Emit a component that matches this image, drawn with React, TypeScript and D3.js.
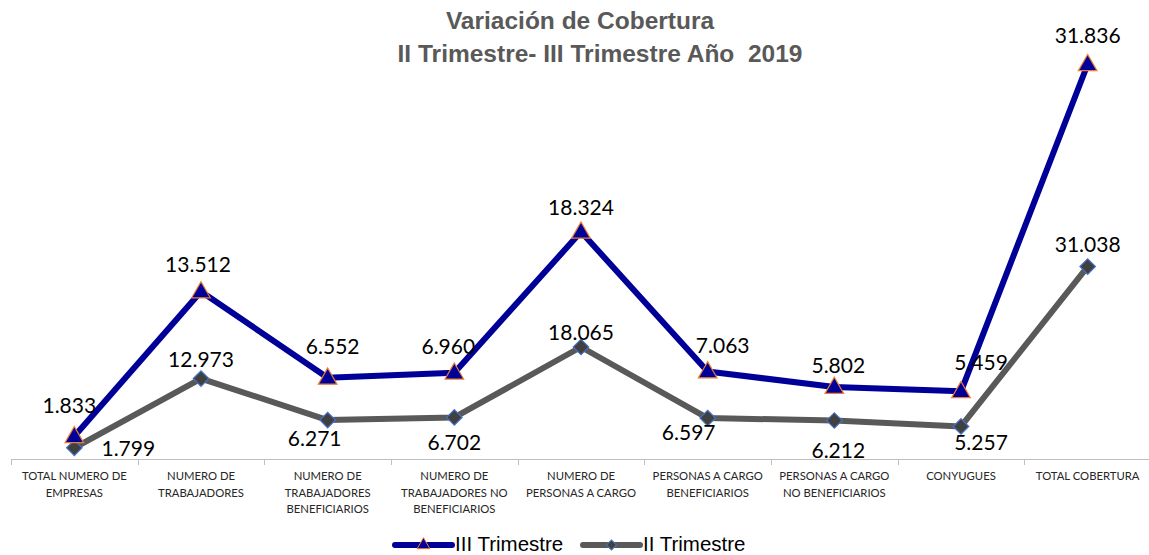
import * as React from 'react';
import * as d3 from 'd3';

const categories = [
  ['TOTAL NUMERO DE', 'EMPRESAS'],
  ['NUMERO DE', 'TRABAJADORES'],
  ['NUMERO DE', 'TRABAJADORES', 'BENEFICIARIOS'],
  ['NUMERO DE', 'TRABAJADORES NO', 'BENEFICIARIOS'],
  ['NUMERO DE', 'PERSONAS A CARGO'],
  ['PERSONAS A CARGO', 'BENEFICIARIOS'],
  ['PERSONAS A CARGO', 'NO BENEFICIARIOS'],
  ['CONYUGUES'],
  ['TOTAL COBERTURA'],
];

// III Trimestre (primary axis)
const trimestre3 = [1833, 13512, 6552, 6960, 18324, 7063, 5802, 5459, 31836];
// II Trimestre (secondary axis)
const trimestre2 = [1799, 12973, 6271, 6702, 18065, 6597, 6212, 5257, 31038];

const primaryMax = 35000;
const secondaryMax = 70000;

// label nudges relative to each point [dx, dy]
const offsets3 = [[-5, -31], [-3, -27], [5, -31], [-6, -26], [0, -24], [15, -26], [4, -22], [20, -29], [0, -29]];
const offsets2 = [[54, 1], [0, -19], [-13, 18], [0, 25], [0, -15], [-19, 14], [4, 30], [20, 16], [0, -22]];

const fmt = d3.formatLocale({ decimal: ',', thousands: '.', grouping: [3], currency: ['$', ''] }).format(',d');

const W = 1149;
const H = 555;

export default function App() {
  const ref = React.useRef<SVGSVGElement>(null);

  React.useEffect(() => {
    const svg = d3.select(ref.current);
    svg.selectAll('*').remove();

    const top = 25;
    const bottom = 459;

    const x = d3.scaleBand<number>().domain(d3.range(categories.length)).range([11, 1151]);
    const y1 = d3.scaleLinear().domain([0, primaryMax]).range([bottom, top]);
    const y2 = d3.scaleLinear().domain([0, secondaryMax]).range([bottom, top]);
    const cx = (i: number) => x(i)! + x.bandwidth() / 2;

    // title
    const title = svg.append('g')
      .attr('font-family', 'Liberation Sans, Arial, sans-serif')
      .attr('font-weight', 'bold')
      .attr('font-size', 24.5)
      .attr('fill', '#595959')
      .attr('text-anchor', 'middle');
    title.append('text').attr('x', 580).attr('y', 29).text('Variación de Cobertura');
    title.append('text').attr('x', 600).attr('y', 62).attr('xml:space', 'preserve').text('II Trimestre- III Trimestre Año  2019');

    // x axis
    const axis = svg.append('g');
    axis.append('line')
      .attr('x1', 11).attr('x2', 1151)
      .attr('y1', bottom + 0.5).attr('y2', bottom + 0.5)
      .attr('stroke', '#BFBFBF');
    axis.selectAll('.tick')
      .data(d3.range(categories.length + 1))
      .enter().append('line')
      .attr('x1', d => Math.round(11 + d * x.step()) + 0.5)
      .attr('x2', d => Math.round(11 + d * x.step()) + 0.5)
      .attr('y1', bottom).attr('y2', bottom + 6)
      .attr('stroke', '#BFBFBF');

    const lab = axis.selectAll('.cat')
      .data(categories)
      .enter().append('text')
      .attr('text-anchor', 'middle')
      .attr('font-family', 'Lato, Open Sans, sans-serif')
      .attr('font-size', 11.3)
      .attr('fill', '#262626');
    lab.each(function (d, i) {
      d3.select(this).selectAll('tspan')
        .data(d)
        .enter().append('tspan')
        .attr('x', cx(i))
        .attr('y', (_, j) => 480 + j * 16.5)
        .text(t => t);
    });

    const series = [
      { values: trimestre3, y: y1, color: '#000099', offsets: offsets3, marker: 'triangle' },
      { values: trimestre2, y: y2, color: '#595959', offsets: offsets2, marker: 'diamond' },
    ];

    const tri = d3.symbol().type(d3.symbolTriangle).size(150);
    const dia = d3.symbol().type(d3.symbolSquare).size(120);

    // draw II first so III sits on top
    [series[1], series[0]].forEach(s => {
      const line = d3.line<number>().x((_, i) => cx(i)).y(d => s.y(d));
      svg.append('path')
        .datum(s.values)
        .attr('d', line)
        .attr('fill', 'none')
        .attr('stroke', s.color)
        .attr('stroke-width', 6)
        .attr('stroke-linejoin', 'round');
    });

    [series[1], series[0]].forEach(s => {
      svg.append('g').selectAll('path')
        .data(s.values)
        .enter().append('path')
        .attr('transform', (d, i) => s.marker === 'triangle'
          ? `translate(${cx(i)},${s.y(d) + 1})`
          : `translate(${cx(i)},${s.y(d)}) rotate(45)`)
        .attr('d', s.marker === 'triangle' ? tri() : dia())
        .attr('fill', s.marker === 'triangle' ? '#000099' : '#404040')
        .attr('stroke', s.marker === 'triangle' ? '#ED7D31' : '#4472C4')
        .attr('stroke-width', 1.2);
    });

    series.forEach(s => {
      svg.append('g').selectAll('text')
        .data(s.values)
        .enter().append('text')
        .attr('x', (d, i) => cx(i) + s.offsets[i][0])
        .attr('y', (d, i) => s.y(d) + s.offsets[i][1])
        .attr('dy', '0.36em')
        .attr('text-anchor', 'middle')
        .attr('font-family', 'Lato, Open Sans, sans-serif')
        .attr('font-size', 21)
        .attr('fill', '#000000')
        .text(d => fmt(d));
    });

    // legend
    const leg = svg.append('g');
    const items = [
      { name: 'III Trimestre', color: '#000099', x: 395, marker: 'triangle' },
      { name: 'II Trimestre', color: '#595959', x: 583, marker: 'diamond' },
    ];
    items.forEach(it => {
      leg.append('line')
        .attr('x1', it.x).attr('x2', it.x + 57)
        .attr('y1', 545).attr('y2', 545)
        .attr('stroke', it.color).attr('stroke-width', 6).attr('stroke-linecap', 'round');
      leg.append('path')
        .attr('transform', it.marker === 'triangle'
          ? `translate(${it.x + 28.5},545)`
          : `translate(${it.x + 28.5},545) rotate(45)`)
        .attr('d', it.marker === 'triangle'
          ? d3.symbol().type(d3.symbolTriangle).size(70)()
          : d3.symbol().type(d3.symbolSquare).size(50)())
        .attr('fill', it.marker === 'triangle' ? '#000099' : '#404040')
        .attr('stroke', it.marker === 'triangle' ? '#ED7D31' : '#4472C4')
        .attr('stroke-width', 1);
      leg.append('text')
        .attr('x', it.x + 60).attr('y', 544)
        .attr('dy', '0.35em')
        .attr('font-family', 'Liberation Sans, Arial, sans-serif')
        .attr('font-size', 20.5)
        .attr('fill', '#000000')
        .text(it.name);
    });
  }, []);

  return (
    <svg ref={ref} width={W} height={H} style={{ position: 'absolute', left: 0, top: 0, background: '#fff' }} />
  );
}
